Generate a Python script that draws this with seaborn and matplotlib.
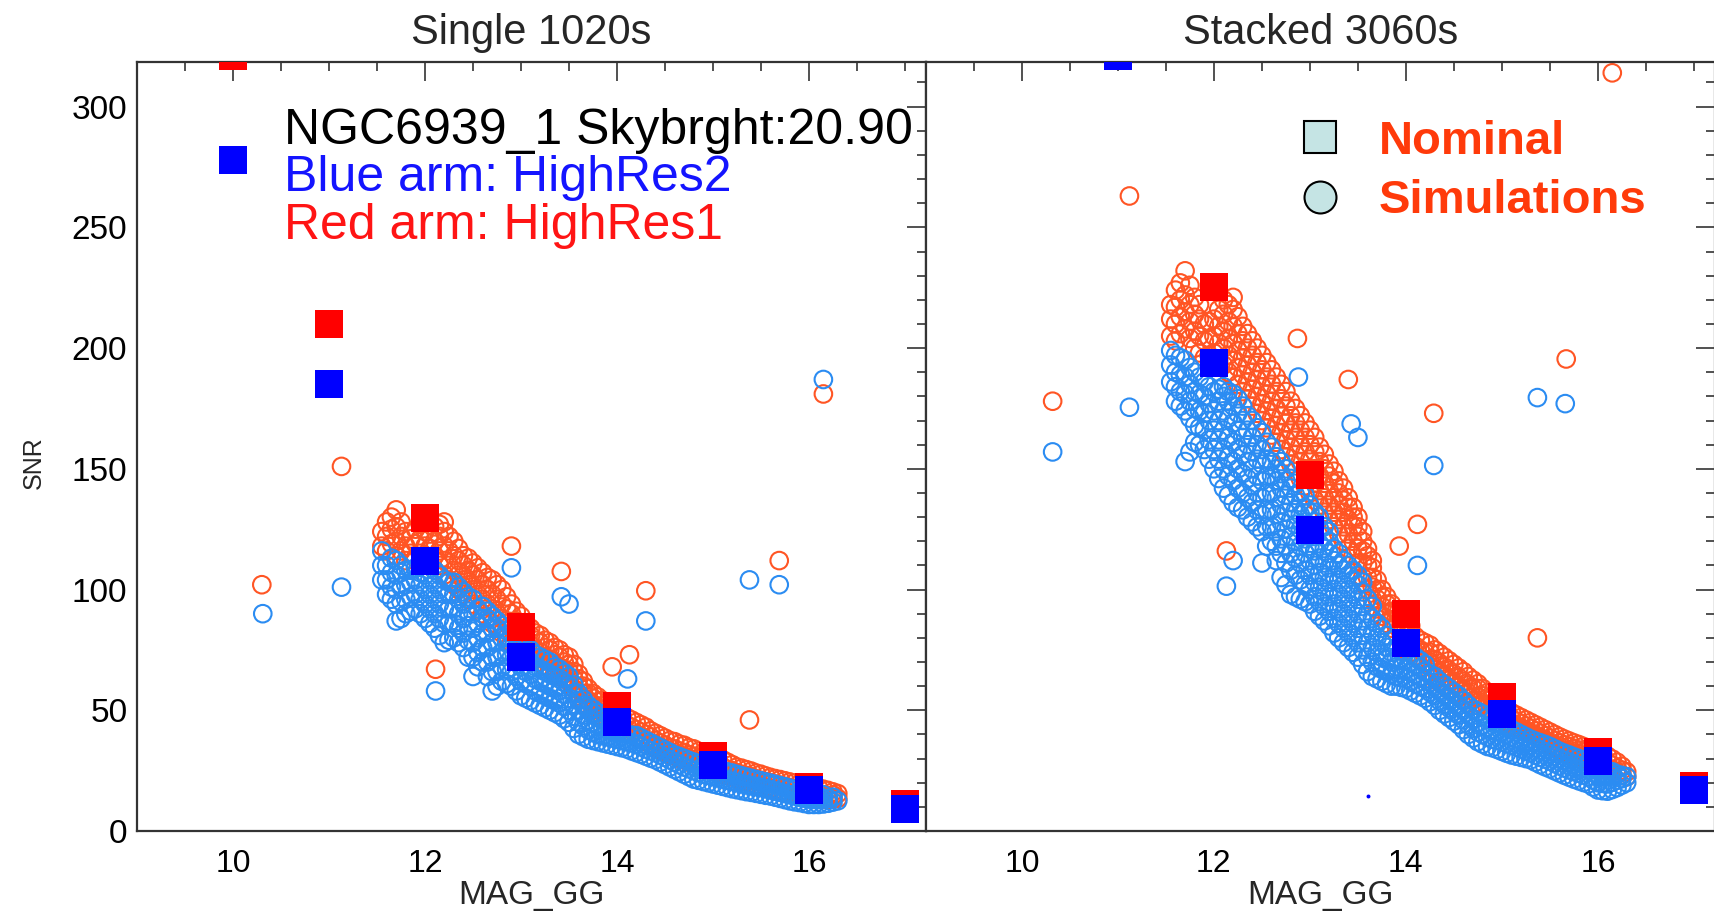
import matplotlib
matplotlib.use("Agg")
import numpy as np
import pandas as pd
import matplotlib.pyplot as plt
from matplotlib.lines import Line2D
from matplotlib.ticker import MultipleLocator
import seaborn as sns

# ---------------- data ----------------
panel_titles = ["Single 1020s", "Stacked 3060s"]

nominal_mag = [10, 11, 12, 13, 14, 15, 16, 17]
single_red_nominal = [321, 210, 129.5, 84.5, 51.7, 30.9, 18.3, 11.3]
single_blue_nominal = [278, 185, 112, 72, 45, 27.4, 17, 9.3]
stacked_red_nominal = [556, 364, 225.5, 147.3, 89.9, 55.3, 32.7, 18.7]
stacked_blue_nominal = [482, 321, 194, 124.8, 78, 48.6, 29.2, 16.8]

# magnitude columns of the dense simulation band
band_mag = [11.55, 11.6, 11.7, 11.8, 11.9, 12.0, 12.1, 12.2, 12.3, 12.4,
            12.5, 12.6, 12.7, 12.8, 12.9, 13.0, 13.1, 13.2, 13.3, 13.4,
            13.5, 13.6, 13.7, 13.8, 13.9, 14.0, 14.1, 14.2, 14.3, 14.4,
            14.5, 14.6, 14.7, 14.8, 14.9, 15.0, 15.1, 15.2, 15.3, 15.4,
            15.5, 15.6, 15.7, 15.8, 15.9, 16.0, 16.1, 16.2, 16.3]
band_mag_half = [11.65, 11.75, 11.85, 11.95, 12.05, 12.15, 12.25, 12.35, 12.45, 12.55,
                 12.65, 12.75, 12.85, 12.95, 13.05, 13.15, 13.25, 13.35, 13.45, 13.55,
                 13.65, 13.75, 13.85, 13.95, 14.05, 14.15, 14.25, 14.35, 14.45, 14.55,
                 14.65, 14.75, 14.85, 14.95, 15.05, 15.15, 15.25, 15.35, 15.45, 15.55,
                 15.65, 15.75, 15.85, 15.95, 16.05, 16.15, 16.25]

single_red_band = [
    [118, 124], [116, 122, 128], [114, 120, 126, 133], [112, 118, 124], [113, 119, 125],
    [112, 118, 124], [108, 114, 120, 126], [106, 112, 118, 124, 128], [102, 108, 114, 120], [98, 104, 110, 114],
    [94, 100, 106, 111], [90, 96, 102, 107], [86, 92, 98, 104], [82, 88, 94, 100], [78, 84, 90, 94],
    [75, 80, 85, 89], [72, 77, 81, 84], [70, 74, 78, 81], [67, 71, 75, 78], [64, 68, 72, 75],
    [62, 66, 69, 72], [56, 60, 63, 65], [51, 54, 57, 59], [48, 51, 53.5, 55.5], [46, 48.5, 51, 52.5],
    [43, 46, 49], [41, 44, 47], [39, 42, 45], [37, 40, 43], [34.5, 37.5, 40.5],
    [32.5, 35.5, 38.5], [31, 34, 37], [29.5, 32.5, 35.5], [28, 31, 34], [26.5, 29.5, 32.5],
    [25, 28, 31], [23.5, 26.5, 29.5], [22.5, 25, 27.5], [21, 23.5, 26], [20, 22.5, 24.8],
    [18.5, 21, 23.5], [17.5, 20, 22.2], [16.5, 19, 21.3], [15.5, 18, 20.3], [15, 17.2, 19.5],
    [14, 16.5, 18.7], [13.5, 15.5, 17.8], [13, 14.5, 16.8], [13.5, 15.5]]
single_red_band_half = [
    [119, 125, 130], [116, 122, 128], [115, 121], [115, 121, 127], [111, 117, 123],
    [110, 116, 122, 127], [104, 110, 116, 122], [100, 106, 112, 117], [96, 102, 108, 113], [92, 98, 104, 109],
    [88, 94, 100, 105], [84, 90, 96, 102], [80, 86, 92, 97], [76, 82, 87, 91], [74, 78, 83, 86],
    [71, 75, 79, 82], [68, 72, 76, 79], [65, 69, 73, 76], [63, 67, 70, 73], [59, 63, 66, 69],
    [53, 57, 60, 62], [50, 52.5, 55, 57], [47, 50, 52, 54], [44.5, 47, 49.5, 51], [42, 45, 48],
    [40, 43, 46], [38, 41, 44], [36, 39, 41.5], [33.5, 36.5, 39.5], [31.5, 34.5, 37.5],
    [30, 33, 36], [28.5, 31.5, 34.5], [27, 30, 33], [25.5, 28.5, 31.5], [24, 27, 30],
    [23, 25.5, 28.5], [21.5, 24, 26.5], [20.5, 23, 25.4], [19, 21.5, 24], [18, 20.5, 22.8],
    [17, 19.5, 21.7], [16, 18.5, 20.8], [15.2, 17.5, 19.9], [14.5, 16.8, 19], [13.8, 16, 18.2],
    [13.2, 15, 17.3], [13.2, 15, 16.2]]

single_blue_band = [
    [104, 110, 116], [98, 104, 110], [87, 94, 100, 106, 112], [90, 96, 102, 108], [92, 98, 104, 109],
    [88, 94, 100, 106], [84, 90, 96, 102, 108], [78, 86, 92, 98, 104], [80, 86, 92, 98, 103], [76, 82, 88, 94, 99],
    [64, 72, 78, 84, 90, 96], [70, 76, 82, 88, 93], [58, 66, 72, 78, 84, 89], [62, 68, 74, 80, 85], [60, 66, 72, 77, 82],
    [56, 62, 68, 74, 79], [54, 60, 65, 70, 75], [52, 57, 62, 67, 72], [50, 55, 60, 65, 70], [48, 53, 58, 63, 67],
    [45, 50, 55, 60, 64], [40, 45, 50, 54, 57], [38, 42, 46, 50, 52], [37, 40, 44, 47, 49], [36, 39, 42, 45],
    [35, 38, 41], [34, 37, 40], [32.5, 36, 39.5], [31, 34, 37.5], [29.5, 32.5, 35.5],
    [27.5, 30.5, 33.5], [25.5, 28.5, 31.5], [23.5, 26.5, 30], [21.5, 25, 28.5], [20.5, 23.5, 27],
    [19.5, 22.5, 26], [18.5, 21.5, 25], [17.5, 20.5, 24], [16.7, 19.5, 22.8], [16, 18.7, 21.8],
    [15.2, 18, 20.8], [14.5, 17, 19.8], [13.5, 16, 18.8], [12.5, 15, 17.7], [11.8, 14, 16.5],
    [11, 13.2, 15.5], [11, 13, 14.5], [11.5, 13.5], [12.5]]
single_blue_band_half = [
    [96, 101, 107, 113], [88, 95, 101, 107, 110], [91, 97, 103, 108], [90, 96, 102, 107], [86, 92, 98, 104],
    [81, 88, 94, 100, 106], [79, 86, 92, 98, 103], [78, 84, 90, 96, 101], [72, 79, 85, 91, 97], [68, 74, 80, 86, 92],
    [64, 70, 76, 82, 88, 91], [60, 66, 72, 78, 84, 87], [61, 67, 73, 78, 83], [58, 64, 70, 75, 80], [55, 61, 66, 71, 76],
    [53, 58, 63, 68, 73], [51, 56, 61, 66, 71], [49, 54, 59, 64, 68], [46.5, 51.5, 56.5, 61.5, 65.5], [42.5, 47.5, 52.5, 57, 60.5],
    [39, 43.5, 48, 52, 54.5], [37.5, 41, 45, 48.5, 50.5], [36.5, 39.5, 43, 46], [35.5, 38.5, 41.5, 44], [34.5, 37.5, 40.5],
    [33.2, 36.5, 39.7], [31.8, 35, 38.5], [30.2, 33.2, 36.5], [28.5, 31.5, 34.5], [26.5, 29.5, 32.5],
    [24.5, 27.5, 30.8], [22.5, 25.8, 29.2], [21, 24.2, 27.8], [20, 23, 26.5], [19, 22, 25.5],
    [18, 21, 24.5], [17.1, 20, 23.4], [16.3, 19.1, 22.3], [15.6, 18.3, 21.3], [14.8, 17.5, 20.3],
    [14, 16.5, 19.3], [13, 15.5, 18.3], [12.1, 14.5, 17.1], [11.4, 13.6, 16], [11, 13.1, 15],
    [11.2, 13.2, 15], [12, 14]]

stacked_red_band = [
    [205, 212, 218], [203, 210, 217, 224], [208, 215, 222, 232], [200, 207, 214, 221], [196, 203, 210],
    [198, 205, 212], [193, 200, 207, 214, 220], [188, 195, 202, 209, 216, 221], [182, 189, 196, 203, 209], [176, 183, 190, 197, 203],
    [170, 177, 184, 191, 197], [164, 171, 178, 185, 191], [158, 165, 172, 179, 185], [152, 159, 166, 172, 178], [146, 153, 160, 166, 172],
    [140, 147, 154, 160, 166], [135, 141, 147, 153, 159], [129, 135, 141, 147, 152], [123, 129, 135, 140, 145], [117, 123, 129, 134, 138],
    [111, 117, 122, 126, 130], [100, 105, 110, 114, 117], [92, 96, 100, 104], [86, 90, 94, 97], [82, 85, 88, 91],
    [75, 79, 83, 87], [72.5, 76.5, 80.5], [70, 74, 78], [63, 67, 71, 75], [60, 64, 68, 72],
    [57, 61, 65, 69], [54, 58, 62, 66], [52, 55.5, 59, 62.5], [52.5, 56, 59], [49.5, 52.5, 55.5],
    [46.5, 49.5, 52.5], [44, 46.5, 49], [42, 44.5, 47], [40, 42.5, 45], [38, 40.5, 43],
    [36, 38.5, 41], [34, 36.5, 39], [32.5, 35, 37.3], [31, 33.5, 35.8], [29.5, 32, 34.3],
    [28, 30.5, 32.8], [26, 28.5, 31], [24, 26, 28.5], [22.5, 24.5]]
stacked_red_band_half = [
    [206, 213, 220, 227], [204, 211, 218, 226], [198, 205, 212, 218], [197, 204, 211], [195, 202, 209, 216],
    [190, 197, 204, 211, 218], [185, 192, 199, 206, 213], [179, 186, 193, 200, 206], [173, 180, 187, 194, 200], [167, 174, 181, 188, 194],
    [161, 168, 175, 182, 188], [155, 162, 169, 176, 182], [149, 156, 163, 169, 175], [143, 150, 157, 163, 169], [137, 144, 150, 157, 163],
    [132, 138, 144, 150, 156], [126, 132, 138, 144, 149], [120, 126, 132, 137, 142], [114, 120, 126, 130, 134], [105, 111, 116, 120, 124],
    [96, 101, 105, 109, 112], [89, 93, 97, 100], [84, 87.5, 91, 94], [78, 82, 86, 89], [74, 78, 82, 85],
    [71, 75, 79], [66, 70, 74, 77], [61.5, 65.5, 69.5, 73.5], [58.5, 62.5, 66.5, 70.5], [55.5, 59.5, 63.5, 67.5],
    [53, 57, 60.5, 64], [52, 55.5, 59, 61], [51, 54, 57.3], [48, 51, 54], [45, 48, 51],
    [43, 45.5, 48], [41, 43.5, 46], [39, 41.5, 44], [37, 39.5, 42], [35, 37.5, 40],
    [33.2, 35.7, 38.1], [31.7, 34.2, 36.5], [30.2, 32.7, 35], [28.7, 31.2, 33.5], [27, 29.5, 31.9],
    [25, 27.2, 29.8], [23.2, 25.2, 26.8]]

stacked_blue_band = [
    [186, 193, 199], [178, 184, 190, 197], [153, 174, 181, 188, 195], [161, 168, 175, 182, 190], [158, 166, 173, 180, 186],
    [150, 158, 166, 174, 182], [142, 150, 158, 166, 174, 180, 184], [112, 136, 145, 153, 161, 169, 176, 181], [133, 140, 148, 156, 163, 170, 176], [128, 136, 143, 150, 157, 163, 170],
    [111, 124, 131, 138, 145, 152, 158, 165], [120, 126, 133, 140, 147, 153, 159], [105, 115, 121, 128, 135, 142, 148, 153], [98, 108, 115, 122, 129, 136, 142, 146], [96, 104, 111, 118, 125, 131, 136, 140],
    [94, 100, 106, 112, 118, 132, 135], [89, 95, 101, 107, 113, 119, 125, 130], [85, 91, 97, 103, 109, 115, 120, 124], [80, 86, 92, 98, 104, 110, 115], [76, 82, 88, 94, 100, 106, 110],
    [72, 78, 84, 90, 96, 102, 106], [66, 72, 78, 84, 90, 96], [63, 68, 74, 80, 86], [61, 66, 71, 76, 81], [60, 64, 68, 72, 76],
    [59, 63, 67, 71], [57, 61, 65, 69, 72], [55, 59, 63, 66, 69], [52, 56, 60, 64], [48.5, 52.5, 56.5, 60.5],
    [45.5, 49.5, 53.5, 57.5], [42, 46, 50, 54], [38.5, 42.5, 46.5, 50.5], [36, 40, 44, 48.5], [34.5, 38, 42, 46],
    [33, 37, 41, 44.5], [31.5, 35.5, 39, 42], [30.5, 34, 37.5, 40], [29.5, 32.5, 35.5, 38], [27.5, 30.5, 33.5, 36.5],
    [25.8, 29, 32, 35], [24, 27, 30, 33], [22.3, 25.3, 28.5, 31.5], [20.8, 24, 27, 30], [19.5, 22.5, 25.5, 28.5],
    [17, 20, 23, 26], [16.5, 19.5, 22.5, 25], [18, 21, 23.5], [20, 22.5]]
stacked_blue_band_half = [
    [176, 182, 189, 196], [157, 171, 178, 185, 192], [160, 167, 174, 181, 188], [154, 162, 170, 177, 184], [146, 154, 162, 170, 178, 183],
    [139, 147, 155, 163, 171, 178, 182], [134, 142, 150, 158, 166, 173, 179], [130, 138, 146, 153, 160, 166, 172], [126, 133, 140, 147, 154, 160, 167], [118, 126, 133, 140, 147, 154, 161],
    [112, 118, 124, 131, 138, 145, 150, 155], [102, 111, 118, 125, 132, 139, 145, 150], [97, 106, 113, 120, 127, 133, 139, 144], [95, 102, 108, 115, 121, 128, 134, 139], [91, 97, 103, 110, 116, 122, 128, 132],
    [87, 93, 99, 105, 111, 117, 122, 126], [82, 88, 94, 100, 106, 112, 117], [78, 84, 90, 96, 102, 108, 112], [74, 80, 86, 92, 98, 104, 108], [69, 75, 81, 87, 93, 99, 103],
    [64, 70, 76, 82, 88, 93], [62, 67, 72, 78, 84], [60, 65, 70, 74, 79], [59.5, 63.5, 67.5, 71.5], [58, 62, 66, 70],
    [56, 60, 64, 67.5, 70.5], [53.5, 57.5, 61.5, 65], [50, 54, 58, 62], [47, 51, 55, 59], [44, 48, 52, 56],
    [40, 44, 48, 52], [37, 41, 45, 49.5], [35, 39, 43, 47], [33.8, 37.5, 41.5, 45], [32.2, 36.2, 40, 43],
    [31, 34.8, 38.2, 41], [30, 33.2, 36.5, 39], [28.5, 31.5, 34.5, 37.2], [26.6, 29.8, 32.8, 35.8], [24.9, 28, 31, 34],
    [23.1, 26.1, 29.2, 32.2], [21.5, 24.6, 27.7, 30.7], [20.1, 23.2, 26.2, 29.2], [18.2, 21.2, 24.2, 27.2], [16.7, 19.7, 22.7, 25.5],
    [17.2, 20.2, 23, 24.5], [19, 21.7, 23]]

# isolated simulation points
single_red_out_mag = [10.30, 11.13, 12.11, 12.90, 13.42, 13.95, 14.13, 14.30, 15.38, 15.69, 16.15]
single_red_out_snr = [102, 151, 67, 118, 107.5, 68, 73, 99.5, 46, 112, 181]
single_blue_out_mag = [10.31, 11.13, 12.11, 12.90, 13.42, 13.50, 14.11, 14.30, 15.38, 15.69, 16.15]
single_blue_out_snr = [90, 101, 58, 109, 97, 94, 63, 87, 104, 102, 187]
stacked_red_out_mag = [10.32, 11.12, 12.13, 12.87, 13.40, 13.93, 14.12, 14.29, 15.37, 15.67, 16.15]
stacked_red_out_snr = [178, 263, 116, 204, 187, 118, 127, 173, 80, 195.5, 314]
stacked_blue_out_mag = [10.32, 11.12, 12.13, 12.88, 13.43, 13.50, 14.12, 14.29, 15.37, 15.66]
stacked_blue_out_snr = [157, 175.5, 101.4, 188, 168.6, 163, 110, 151.4, 179.5, 177]
stacked_dot_mag = [13.61]
stacked_dot_snr = [14.5]

info_lines = ["NGC6939_1 Skybrght:20.90", "Blue arm: HighRes2", "Red arm: HighRes1"]
legend_labels = ["Nominal", "Simulations"]

# ---------------- styling ----------------
RED_SIM = "#ff5524"
BLUE_SIM = "#2b8cf2"
RED_NOM = "#ff0000"
BLUE_NOM = "#0000ff"
AX_COL = "#333333"

sns.set_style("white")
plt.rcParams["font.family"] = ["Liberation Sans", "DejaVu Sans"]


def band_frame(col_sets, extra_mag, extra_snr):
    xs, ys = [], []
    for mags, cols in col_sets:
        for m, col in zip(mags, cols):
            for v in col:
                xs.append(m)
                ys.append(v)
    xs += list(extra_mag)
    ys += list(extra_snr)
    return pd.DataFrame({"mag": xs, "snr": ys})


fig = plt.figure(figsize=(17.15, 9.14), dpi=100)
ax1 = fig.add_axes([0.0799, 0.0908, 0.4601, 0.8414])
ax2 = fig.add_axes([0.5399, 0.0908, 0.4601, 0.8414])

panels = [
    (ax1, single_red_band, single_red_band_half, single_blue_band, single_blue_band_half,
     single_red_out_mag, single_red_out_snr, single_blue_out_mag, single_blue_out_snr,
     single_red_nominal, single_blue_nominal),
    (ax2, stacked_red_band, stacked_red_band_half, stacked_blue_band, stacked_blue_band_half,
     stacked_red_out_mag, stacked_red_out_snr, stacked_blue_out_mag, stacked_blue_out_snr,
     stacked_red_nominal, stacked_blue_nominal),
]

circ_kw = dict(marker="o", s=160, facecolor="none", linewidth=1.5, legend=False)
sq_kw = dict(marker="s", s=400, linewidth=0, legend=False)

for i, (ax, rb, rbh, bb, bbh, rom, ros, bom, bos, rn, bn) in enumerate(panels):
    red_df = band_frame([(band_mag, rb), (band_mag_half, rbh)], rom, ros)
    blue_df = band_frame([(band_mag, bb), (band_mag_half, bbh)], bom, bos)
    sns.scatterplot(data=red_df, x="mag", y="snr", ax=ax, color=RED_SIM, edgecolor=RED_SIM, zorder=2, **circ_kw)
    sns.scatterplot(data=blue_df, x="mag", y="snr", ax=ax, color=BLUE_SIM, edgecolor=BLUE_SIM, zorder=3, **circ_kw)
    sns.scatterplot(x=nominal_mag, y=rn, ax=ax, color=RED_NOM, zorder=4, **sq_kw)
    sns.scatterplot(x=nominal_mag, y=bn, ax=ax, color=BLUE_NOM, zorder=5, **sq_kw)

    ax.set_xlim(9.0, 17.22)
    ax.set_ylim(0, 318.5)
    ax.xaxis.set_major_locator(MultipleLocator(2))
    ax.xaxis.set_minor_locator(MultipleLocator(0.5))
    ax.yaxis.set_major_locator(MultipleLocator(50))
    ax.yaxis.set_minor_locator(MultipleLocator(10))
    ax.tick_params(which="both", direction="in", top=True, right=True,
                   color=AX_COL, width=1.2, labelcolor="black")
    ax.tick_params(which="major", length=14)
    ax.tick_params(which="minor", length=6.5)
    ax.tick_params(axis="x", which="major", labelsize=23, pad=13)
    ax.tick_params(axis="y", which="major", labelsize=24, pad=7)
    for sp in ax.spines.values():
        sp.set_color(AX_COL)
        sp.set_linewidth(1.6)
    ax.set_title(panel_titles[i], fontsize=30, pad=13)
    ax.set_xlabel("MAG_GG", fontsize=24)
    ax.xaxis.set_label_coords(0.5, -0.064)
    ax.set_ylabel("")
    ax.grid(False)

ax2.tick_params(labelleft=False)
sns.scatterplot(x=stacked_dot_mag, y=stacked_dot_snr, ax=ax2, color=BLUE_NOM, s=8,
                linewidth=0, legend=False, zorder=6)

fig.text(0.020, 0.494, "SNR", rotation=90, ha="center", va="center", fontsize=18)

# info block (left panel)
info_colors = ["black", "#1414ff", "#ff1414"]
info_y = [0.8934, 0.8326, 0.7698]
for txt, c, y in zip(info_lines, info_colors, info_y):
    ax1.text(0.186, y, txt, transform=ax1.transAxes, color=c, fontsize=36,
             ha="left", va="baseline", zorder=7)

# legend (right panel)
handles = [
    Line2D([], [], marker="s", linestyle="none", markersize=23, markerfacecolor="#c5e4e4",
           markeredgecolor="black", markeredgewidth=1.5),
    Line2D([], [], marker="o", linestyle="none", markersize=23, markerfacecolor="#c5e4e4",
           markeredgecolor="black", markeredgewidth=1.5),
]
leg = ax2.legend(handles, legend_labels, loc="upper left", bbox_to_anchor=(0.470, 0.925),
                 frameon=False, borderpad=0, borderaxespad=0, handlelength=1.0,
                 handletextpad=0.73, labelspacing=0.33,
                 prop={"weight": "bold", "size": 34}, labelcolor="#ff3a0a")

fig.savefig("out.png", dpi=100)
